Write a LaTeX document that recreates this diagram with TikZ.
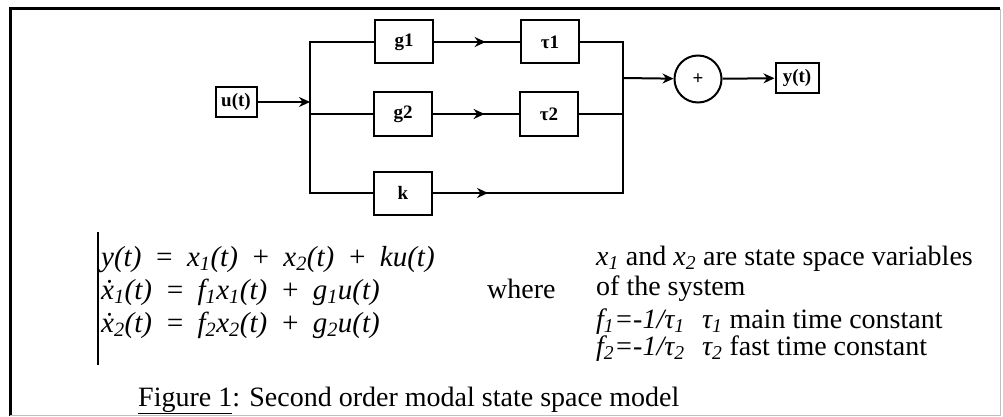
\documentclass[tikz,border=0pt]{standalone}
\usepackage{fontspec}
\setmainfont{Liberation Serif}
\usetikzlibrary{positioning,arrows.meta,decorations.markings}

\newcommand\boxfont{\fontsize{19}{22}\selectfont\bfseries}
\newcommand\txtfont{\fontsize{28}{31}\selectfont}
\newcommand\eqfont{\fontsize{29}{32}\selectfont\itshape\spaceskip=13pt plus 2pt}

\tikzset{
  blk/.style={draw, line width=2pt, minimum width=58pt, minimum height=43pt, inner sep=0pt, font=\boxfont},
  sig/.style={line width=2pt},
  sigarr/.style={sig, -{Stealth[length=11pt,width=10pt]}},
  midarr/.style={sig, postaction=decorate,
    decoration={markings, mark=at position #1 with {\arrow{Stealth[length=11pt,width=10pt]}}}},
  midarr/.default=0.6,
  txt/.style={anchor=base west, inner sep=0pt, font=\txtfont},
  eq/.style={anchor=base west, inner sep=0pt, font=\eqfont}
}

\begin{document}
\begin{tikzpicture}[x=1pt, y=-1pt]
\useasboundingbox (0,0) rectangle (1003,417);
% frame
\draw[line width=3pt] (10,416) -- (10,9) -- (1000,9);
\draw[black!25, line width=1pt] (1000,9) -- (1000,415) -- (10,415);

% block diagram
\node[blk, minimum width=41pt, minimum height=30pt] (u) at (236,102) {u(t)};
\coordinate (split) at (310,102);
\node[blk] (g1) at (404,42) {g1};
\node[blk] (g2) at (403,114) {g2};
\node[blk] (k) at (403,193) {k};
\node[blk] (t1) at (550,42) {τ1};
\node[blk] (t2) at (549,114) {τ2};
\coordinate (join) at (623,78);
\node[draw, line width=2pt, circle, minimum size=47pt, inner sep=0pt, font=\boxfont] (sum) at (698,79) {+};
\node[blk, minimum width=43pt, minimum height=30pt] (y) at (797,78) {y(t)};

\draw[sigarr] (u) -- (split);
\draw[sig] (g1.west) -| (split);
\draw[sig] (k.west) -| (split);
\draw[sig] (g2.west) -- (g2.west -| split);
\draw[midarr] (g1) -- (t1);
\draw[midarr] (g2) -- (t2);
\draw[midarr=55pt] (k.east) -| (join);
\draw[sig] (t1.east) -| (join);
\draw[sig] (t2.east) -- (t2.east -| join);
\draw[sigarr] (join) -- (sum);
\draw[sigarr] (sum) -- (y);

% equations
\node[eq] (eq1) at (101,266) {y(t) = x\textsubscript{1}(t) + x\textsubscript{2}(t) + ku(t)};
\node[eq] (eq2) at (101,299) {\.x\textsubscript{1}(t) = f\textsubscript{1}x\textsubscript{1}(t) + g\textsubscript{1}u(t)};
\node[eq] (eq3) at (101,332) {\.x\textsubscript{2}(t) = f\textsubscript{2}x\textsubscript{2}(t) + g\textsubscript{2}u(t)};
\draw[line width=2pt] (98,232) -- (98,365);
\node[txt] (where) at (487,298) {where};

\node[txt] (vars) at (596,265) {\textit{x\textsubscript{1}} and \textit{x\textsubscript{2}} are state space variables};
\node[txt] (sys) at (596,295) {of the system};
\node[txt] (f1) at (596,328) {\textit{f\textsubscript{1}=-1/τ\textsubscript{1}}};
\node[txt] (c1) at (702,328) {\textit{τ\textsubscript{1}} main time constant};
\node[txt] (f2) at (596,355) {\textit{f\textsubscript{2}=-1/τ\textsubscript{2}}};
\node[txt] (c2) at (702,355) {\textit{τ\textsubscript{2}} fast time constant};

\node[txt] (cap) at (138,406) {\underline{Figure 1}: Second order modal state space model};
\end{tikzpicture}
\end{document}
